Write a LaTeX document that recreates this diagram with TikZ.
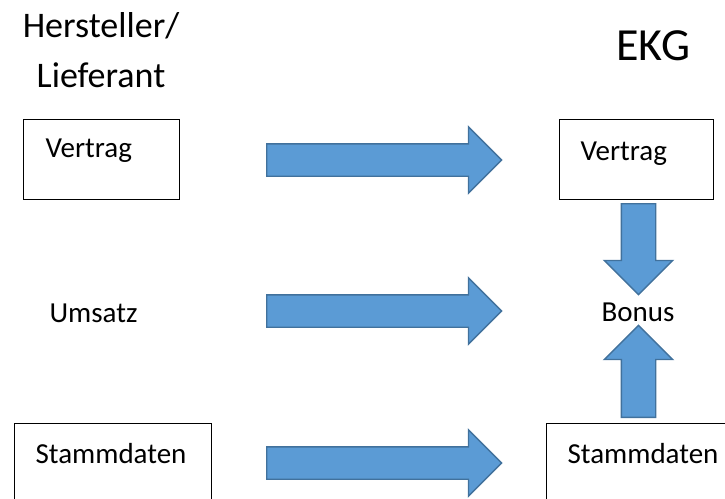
\documentclass[tikz,border=0pt]{standalone}
\usepackage{fontspec}
\setmainfont{Carlito}
\usepackage{tikz}
\usetikzlibrary{positioning,shapes.arrows}
\definecolor{blockfill}{HTML}{5B9BD5}
\definecolor{blockline}{HTML}{41719C}

\begin{document}
\begin{tikzpicture}[x=1pt,y=-1pt,
  every node/.style={font=\fontsize{29}{35}\selectfont},
  box/.style={draw,line width=1.2pt,anchor=north west,align=left,inner ysep=0pt,inner xsep=21pt,text width=#1},
  head/.style={font=\fontsize{36}{50}\selectfont,align=center},
  blk/.style={single arrow,draw=blockline,fill=blockfill,line width=1.4pt,single arrow tip angle=90,anchor=tail},
  harr/.style={blk,minimum height=235pt,inner sep=15.5pt,single arrow head extend=17pt},
  varr/.style={blk,inner sep=16.5pt,single arrow head extend=17pt}]
  \clip (0,0) rectangle (725,498);
  \node[head,anchor=base] (hl) at (101,87) {Hersteller/\\Lieferant};
  \node[font=\fontsize{46}{50}\selectfont,anchor=base west] (ekg) at (613,60) {EKG};
  \node[box=112pt,inner xsep=22pt,text height=38pt,text depth=42pt] (lv) at (23,119) {Vertrag};
  \node[box=112pt,text height=41pt,text depth=39pt] (rv) at (559,119) {Vertrag};
  \node[anchor=base west] (um) at (46,322) {Umsatz};
  \node[anchor=base west] (bo) at (598,321) {Bonus};
  \node[box=155pt,text height=40pt,text depth=40pt] (ls) at (14,423) {Stammdaten};
  \node[box=155pt,text height=40pt,text depth=40pt] (rs) at (546,423) {Stammdaten};
  \node[harr] (a1) at (266,160) {};
  \node[harr] (a2) at (266,311) {};
  \node[harr] (a3) at (266,463) {};
  \node[varr,shape border rotate=270,minimum height=91pt] (a4) at (638.5,203) {};
  \node[varr,shape border rotate=90,minimum height=92pt] (a5) at (638.5,418) {};
\end{tikzpicture}
\end{document}
